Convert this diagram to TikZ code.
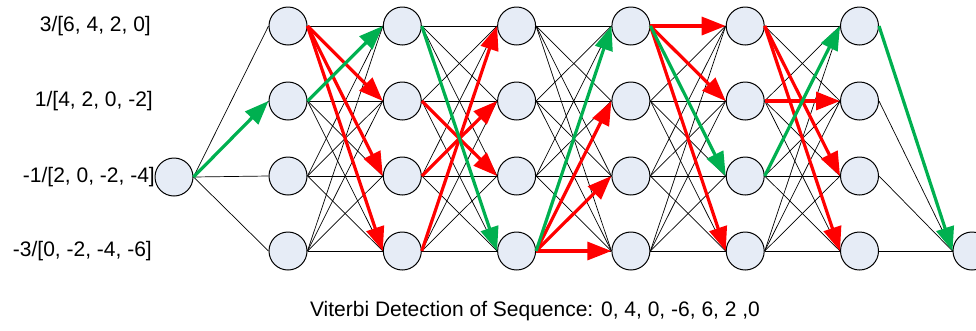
\documentclass[tikz,border=0pt]{standalone}
\usepackage{fontspec}
\setmainfont{Liberation Sans}
\usetikzlibrary{arrows.meta}
\definecolor{nodefill}{HTML}{E6ECF6}
\definecolor{pgreen}{HTML}{00B050}
\definecolor{pred}{HTML}{FF0000}
\tikzset{
  st/.style={circle, draw=black, fill=nodefill, minimum size=38pt, inner sep=0pt, line width=1pt},
  tr/.style={black, line width=0.7pt},
  colarrow/.style={line width=3.2pt, -{Triangle[length=24pt,width=18pt]}},
  ra/.style={colarrow, pred},
  ga/.style={colarrow, pgreen},
  lab/.style={font=\fontsize{21}{25}\selectfont, inner sep=0pt, anchor=east}
}
\begin{document}
\begin{tikzpicture}[x=1pt,y=-1pt]
\useasboundingbox (0,0) rectangle (976,330);
% nodes
\node[st] (n0) at (174,177) {};
\foreach \c in {1,...,6}
  \foreach \r in {1,...,4}
    \node[st] (n\c\r) at ({288+114.3*(\c-1)},{26+75*(\r-1)}) {};
\node[st] (nf) at (972,251) {};
% labels
\node[lab] (l1) at (151,26) {3/[6, 4, 2, 0]};
\node[lab] (l2) at (153,101) {1/[4, 2, 0, -2]};
\node[lab] (l3) at (155,177) {-1/[2, 0, -2, -4]};
\node[lab] (l4) at (152,251) {-3/[0, -2, -4, -6]};
\node[font=\fontsize{21}{25}\selectfont, inner sep=0pt] (cap) at (535,311) {Viterbi Detection of Sequence: 0, 4, 0, -6, 6, 2 ,0};
% trellis edges
\foreach \r in {1,...,4} \draw[tr] (n0.east) -- (n1\r.west);
\foreach \c/\d in {1/2,2/3,3/4,4/5,5/6}
  \foreach \r in {1,...,4}
    \foreach \s in {1,...,4}
      \draw[tr] (n\c\r.east) -- (n\d\s.west);
\foreach \r in {1,...,4} \draw[tr] (n6\r.east) -- (nf.west);
% highlighted paths
\draw[ga] (n0.east) -- (n12.west);
\draw[ra] (n11.east) -- (n22.west);
\draw[ra] (n11.east) -- (n23.west);
\draw[ra] (n11.east) -- (n24.west);
\draw[ga] (n12.east) -- (n21.west);
\draw[ra] (n22.east) -- (n33.west);
\draw[ra] (n23.east) -- (n32.west);
\draw[ra] (n24.east) -- (n31.west);
\draw[ga] (n21.east) -- (n34.west);
\draw[ra] (n34.east) -- (n42.west);
\draw[ra] (n34.east) -- (n43.west);
\draw[ra] (n34.east) -- (n44.west);
\draw[ga] (n34.east) -- (n41.west);
\draw[ra] (n41.east) -- (n51.west);
\draw[ra] (n41.east) -- (n52.west);
\draw[ra] (n41.east) -- (n54.west);
\draw[ga] (n41.east) -- (n53.west);
\draw[ra] (n51.east) -- (n63.west);
\draw[ra] (n51.east) -- (n64.west);
\draw[ra] (n52.east) -- (n62.west);
\draw[ga] (n53.east) -- (n61.west);
\draw[ga] (n61.east) -- (nf.west);
\end{tikzpicture}
\end{document}
